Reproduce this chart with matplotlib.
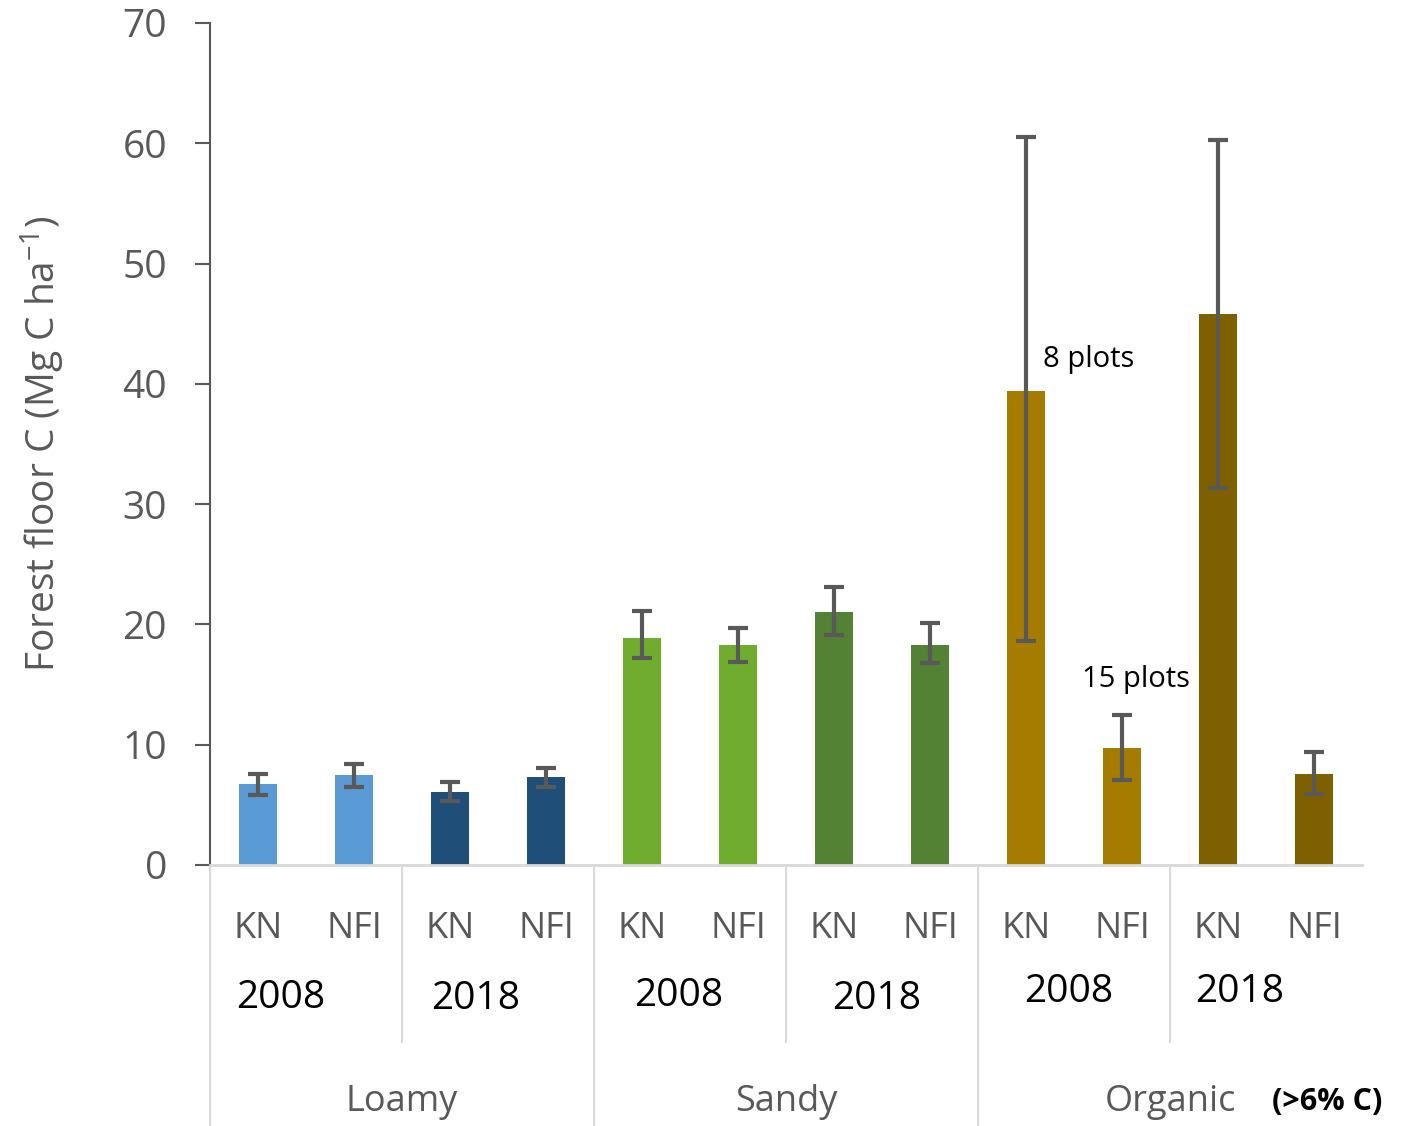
import numpy as np
import matplotlib.pyplot as plt
from matplotlib import transforms

plt.rcParams['font.family'] = ['Open Sans', 'DejaVu Sans']

# ---- Data ----
sources = ['KN', 'NFI'] * 6
years = ['2008', '2018', '2008', '2018', '2008', '2018']
soils = ['Loamy', 'Sandy', 'Organic']
means = [6.7, 7.5, 6.1, 7.3, 18.9, 18.3, 21.0, 18.3, 39.4, 9.7, 45.8, 7.6]
err_lo = [5.8, 6.5, 5.3, 6.5, 17.2, 16.9, 19.1, 16.8, 18.6, 7.1, 31.3, 5.9]
err_hi = [7.6, 8.4, 6.9, 8.1, 21.1, 19.7, 23.1, 20.1, 60.5, 12.5, 60.3, 9.4]
colors = ['#5B9BD5', '#5B9BD5', '#1F4E79', '#1F4E79',
          '#70AD2F', '#70AD2F', '#548235', '#548235',
          '#A67C00', '#A67C00', '#7F6000', '#7F6000']

gray = '#595959'
light = '#D9D9D9'

fig = plt.figure(figsize=(14.02, 11.26), dpi=100)
ax = fig.add_axes([0.1498, 0.2318, 0.8217, 0.7478])

x = np.arange(len(means))
means = np.array(means)
yerr = [means - np.array(err_lo), np.array(err_hi) - means]
ax.bar(x, means, width=0.4, color=colors, zorder=2)
ax.errorbar(x, means, yerr=yerr, fmt='none', ecolor=gray, elinewidth=3,
            capsize=7, capthick=3, zorder=3)

ax.set_xlim(-0.5, 11.5)
ax.set_ylim(0, 70)
ax.set_yticks(range(0, 71, 10))
ax.tick_params(axis='y', direction='out', length=11, width=1.5, color=gray,
               labelcolor=gray, labelsize=28, pad=20)
ax.set_xticks([])
for s in ['top', 'right']:
    ax.spines[s].set_visible(False)
ax.spines['left'].set_color(gray)
ax.spines['left'].set_linewidth(1.5)
ax.spines['bottom'].set_color(light)
ax.spines['bottom'].set_linewidth(2)

ax.set_ylabel('Forest floor C (Mg C ha$^{\\mathregular{-1}}$)', fontsize=28,
              color=gray, labelpad=40)

# ---- Grouped category axis ----
trans = transforms.blended_transform_factory(ax.transData, ax.transAxes)
for xs in [-0.5, 3.5, 7.5]:
    ax.plot([xs, xs], [0, -0.31], transform=trans, color=light, lw=1.5,
            clip_on=False)
for xs in [1.5, 5.5, 9.5]:
    ax.plot([xs, xs], [0, -0.21], transform=trans, color=light, lw=1.5,
            clip_on=False)

for xi, lab in zip(x, sources):
    ax.text(xi, -0.076, lab, transform=trans, ha='center', va='center',
            fontsize=26, color=gray)

year_x = [0.24, 2.27, 4.38, 6.44, 8.44, 10.23]
year_y = [-0.158, -0.159, -0.156, -0.159, -0.151, -0.151]
for xi, yi, lab in zip(year_x, year_y, years):
    ax.text(xi, yi, lab, transform=trans, ha='center', va='center',
            fontsize=28, color='black')

soil_x = [1.5, 5.5, 9.5]
for xi, lab in zip(soil_x, soils):
    ax.text(xi, -0.281, lab, transform=trans, ha='center', va='center',
            fontsize=26, color=gray)
ax.text(10.56, -0.281, '(>6% C)', transform=trans, ha='left', va='center',
        fontsize=22, fontweight='bold', color='black')

# ---- Plot counts ----
ax.text(8.18, 42, '8 plots', fontsize=21, color='black', va='center')
ax.text(8.58, 15.4, '15 plots', fontsize=21, color='black', va='center')

fig.savefig('out.png', dpi=100)
